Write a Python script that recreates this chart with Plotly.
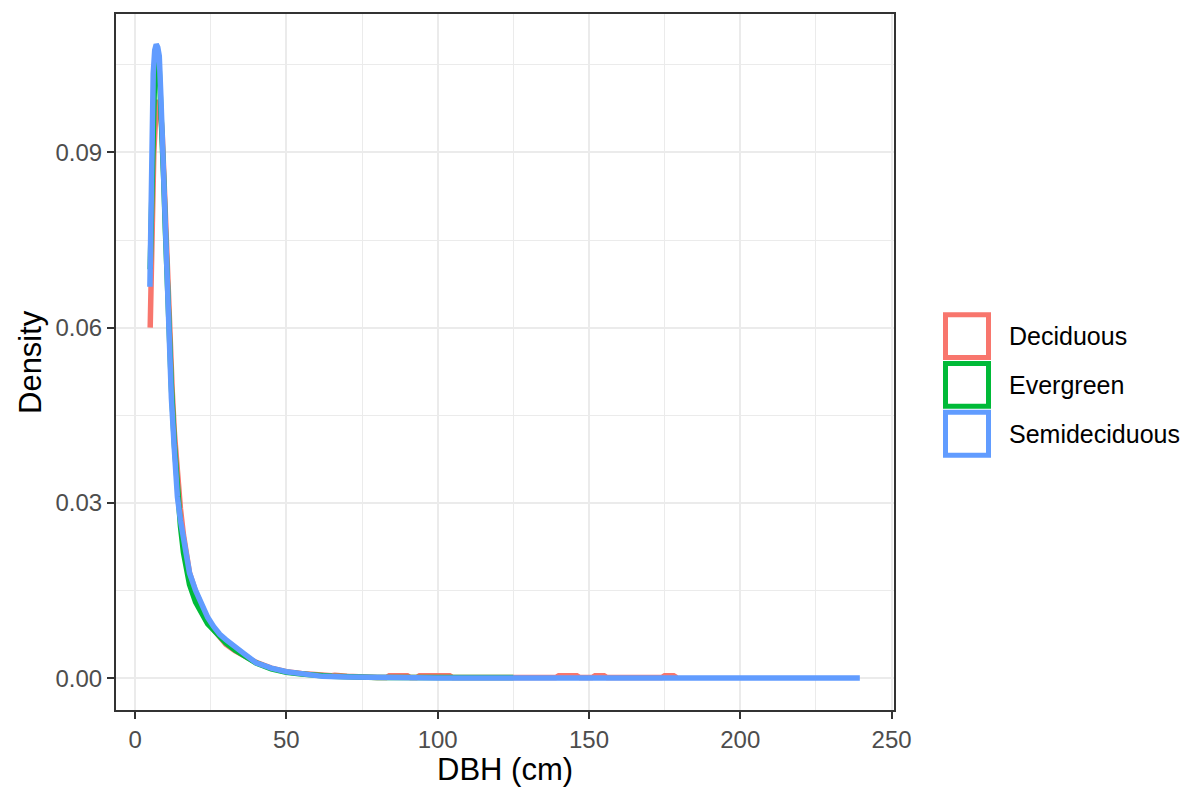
import plotly.graph_objects as go

# ---------------- data ----------------
groups = ["Deciduous", "Evergreen", "Semideciduous"]
colors = ["#F8766D", "#00BA38", "#619CFF"]

dec_x = [5.0, 5.3, 5.7, 6.2, 6.8, 7.3, 7.8, 8.4, 9.0, 9.6, 10.2, 10.8, 11.5, 12.3, 13, 14, 15, 16, 17, 18,
         20, 22, 24, 26, 28, 30, 33, 36, 40, 45, 50, 55, 60, 65, 66, 68, 70, 80, 83, 84, 90, 91, 93, 94,
         104, 105, 110, 120, 130, 139, 140, 146, 147, 151, 152, 155, 156, 170, 174, 175, 178, 179]
dec_y = [0.060, 0.068, 0.080, 0.090, 0.096, 0.098, 0.099, 0.097, 0.093, 0.085, 0.076, 0.067, 0.058, 0.049,
         0.042, 0.034, 0.029, 0.0245, 0.021, 0.018, 0.0148, 0.0124, 0.0100, 0.0083, 0.0069, 0.0058, 0.0047,
         0.0038, 0.0027, 0.0017, 0.0011, 0.0008, 0.0005, 0.0004, 0.0005, 0.0005, 0.0003, 0.0001, 0.0001,
         0.0004, 0.0004, 0.0001, 0.0001, 0.0004, 0.0004, 0.0001, 0.0001, 0.0001, 0.0001, 0.0001, 0.0004,
         0.0004, 0.0001, 0.0001, 0.0004, 0.0004, 0.0001, 0.0001, 0.0001, 0.0004, 0.0004, 0.0001]

eve_x = [5.0, 5.5, 6.0, 6.5, 7.0, 7.5, 8.0, 8.5, 9.0, 9.5, 10, 10.5, 11, 12, 13, 14, 15, 16, 17, 18,
         20, 22, 24, 26, 28, 30, 33, 36, 40, 45, 50, 55, 57, 60, 65, 70, 80, 90, 100, 110, 119, 120, 121, 125]
eve_y = [0.070, 0.085, 0.097, 0.104, 0.106, 0.106, 0.104, 0.099, 0.093, 0.085, 0.077, 0.069, 0.061, 0.050,
         0.040, 0.032, 0.026, 0.0215, 0.0185, 0.016, 0.013, 0.011, 0.0093, 0.0082, 0.0070, 0.0060, 0.0048,
         0.0038, 0.0026, 0.0016, 0.0010, 0.0007, 0.0007, 0.0005, 0.0003, 0.0002, 0.0001, 0.0001, 0.0001,
         0.0001, 0.0002, 0.0003, 0.0002, 0.0001]

semi_x = [4.9, 5.0, 5.3, 5.6, 6.0, 6.5, 7.0, 7.5, 8.0, 8.5, 9.0, 9.5, 10.0, 10.5, 11, 12, 13, 14, 15, 16,
          17, 18, 20, 22, 24, 26, 28, 30, 33, 36, 40, 45, 50, 55, 60, 62, 70, 77, 80, 100, 120, 150, 180,
          210, 239.5]
semi_y = [0.067, 0.072, 0.081, 0.093, 0.1035, 0.1075, 0.1085, 0.108, 0.1065, 0.100, 0.092, 0.083, 0.074,
          0.066, 0.058, 0.048, 0.039, 0.031, 0.027, 0.0235, 0.0205, 0.018, 0.015, 0.0128, 0.0104, 0.0088,
          0.0075, 0.0066, 0.0053, 0.0042, 0.0026, 0.0017, 0.0011, 0.0008, 0.0005, 0.0003, 0.0002, 0.00015,
          0.00003, 0.00002, 0.00001, 0.0, 0.0, 0.0, 0.0]

x_ticks = [0, 50, 100, 150, 200, 250]
y_ticks = [0.00, 0.03, 0.06, 0.09]
y_tick_labels = ["0.00", "0.03", "0.06", "0.09"]

series_x = [dec_x, eve_x, semi_x]
series_y = [dec_y, eve_y, semi_y]

# ---------------- layout geometry ----------------
W, H = 1192, 792
PL, PR, PT, PB = 116, 894, 12, 710


def px(xp):
    return (xp - PL) / (PR - PL)


def py(yp):
    return (PB - yp) / (PB - PT)


fig = go.Figure()
for name, col, xs, ys in zip(groups, colors, series_x, series_y):
    fig.add_trace(go.Scatter(x=xs, y=ys, mode="lines", name=name,
                             line=dict(color=col, width=5.5), showlegend=False))

grid = "#EBEBEB"
fig.update_layout(
    width=W, height=H,
    margin=dict(l=PL, r=W - PR, t=PT, b=H - PB),
    paper_bgcolor="white", plot_bgcolor="white",
    font=dict(family="Liberation Sans, Arial, sans-serif"),
    xaxis=dict(range=[-6.3, 250.8], tickvals=x_ticks, ticktext=[str(v) for v in x_ticks],
               showgrid=True, gridcolor=grid, gridwidth=2,
               minor=dict(tickvals=[25, 75, 125, 175, 225], showgrid=True, gridcolor=grid, gridwidth=1,
                          ticks=""),
               zeroline=False, showline=True, linecolor="#333333", linewidth=2, mirror=True,
               ticks="outside", ticklen=7, tickwidth=2, tickcolor="#333333",
               tickfont=dict(size=24, color="#4D4D4D")),
    yaxis=dict(range=[-0.00546, 0.1137], tickvals=y_ticks, ticktext=y_tick_labels,
               showgrid=True, gridcolor=grid, gridwidth=2,
               minor=dict(tickvals=[0.015, 0.045, 0.075, 0.105], showgrid=True, gridcolor=grid,
                          gridwidth=1, ticks=""),
               zeroline=False, showline=True, linecolor="#333333", linewidth=2, mirror=True,
               ticks="outside", ticklen=7, tickwidth=2, tickcolor="#333333",
               tickfont=dict(size=24, color="#4D4D4D")),
)

# axis titles
fig.add_annotation(text="DBH (cm)", xref="paper", yref="paper", x=px(505), y=py(770),
                   showarrow=False, font=dict(size=31, color="black"), xanchor="center", yanchor="middle")
fig.add_annotation(text="Density", xref="paper", yref="paper", x=px(30), y=py(361), textangle=-90,
                   showarrow=False, font=dict(size=31, color="black"), xanchor="center", yanchor="middle")

# legend (ggplot-style outlined keys)
key_tops = [311, 360, 409]
for name, col, top in zip(groups, colors, key_tops):
    fig.add_shape(type="rect", xref="paper", yref="paper",
                  x0=px(945.5), x1=px(988.5), y0=py(top + 2.5), y1=py(top + 45.5),
                  line=dict(color=col, width=5), fillcolor="white")
    fig.add_annotation(text=name, xref="paper", yref="paper", x=px(1007), y=py(top + 24),
                       showarrow=False, xanchor="left", yanchor="middle",
                       font=dict(size=25, color="black"))

fig.write_html("out.html")
